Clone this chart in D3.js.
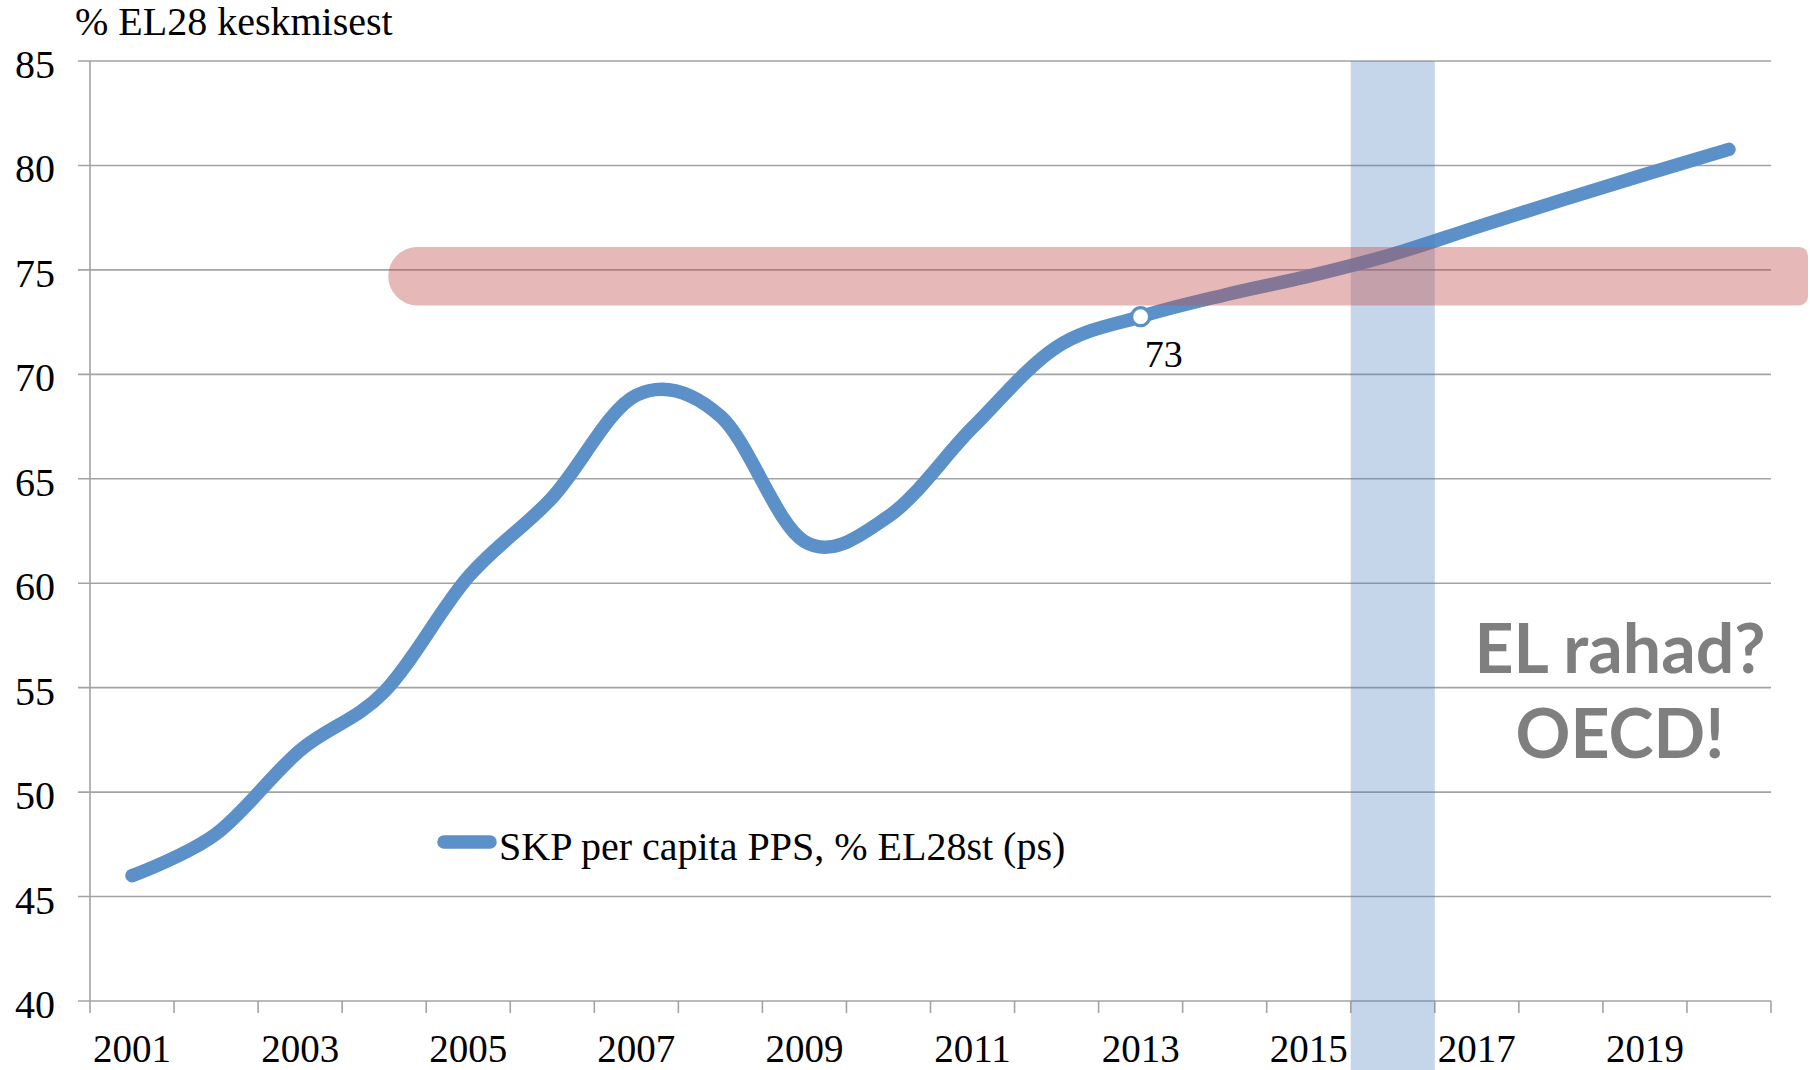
<!DOCTYPE html>
<html>
<head>
<meta charset="utf-8">
<script src="https://cdn.jsdelivr.net/npm/d3@7/dist/d3.min.js"></script>
<style>
  html, body { margin: 0; padding: 0; background: #fff; }
  svg { display: block; }
</style>
</head>
<body>
<svg id="chart" width="1810" height="1070"></svg>
<script>
// ---- data ----
const years = ["2001","2002","2003","2004","2005","2006","2007","2008","2009","2010",
               "2011","2012","2013","2014","2015","2016","2017","2018","2019","2020"];
const gdpValues = [46.0, 48.0, 52.0, 54.8, 60.3, 64.1, 69.0, 68.0, 62.0, 63.2,
                   67.45, 71.3, 72.76, 73.8, 74.7, 75.75, 77.05, 78.33, 79.57, 80.77];
const yTicks = [40, 45, 50, 55, 60, 65, 70, 75, 80, 85];
const xTickLabels = ["2001","2003","2005","2007","2009","2011","2013","2015","2017","2019"];
const seriesName = "SKP per capita PPS, % EL28st (ps)";
const yAxisTitle = "% EL28 keskmisest";
const highlightYear = "2013";
const highlightLabel = "73";
const shadedYears = ["2016"];
const targetBandStartYear = "2004";
const targetBand = [73.3, 76.1];
const annotationLines = ["EL rahad?", "OECD!"];

// ---- layout ----
const W = 1810, H = 1070;
const mLeft = 90, mRight = 1771, mTop = 61, mBottom = 1001;
const svg = d3.select("#chart");

const x = d3.scaleBand().domain(years).range([mLeft, mRight]).paddingInner(0).paddingOuter(0);
const y = d3.scaleLinear().domain([40, 85]).range([mBottom, mTop]);
const cx = d => x(d) + x.bandwidth() / 2;

const serif = "'Liberation Serif', 'Times New Roman', serif";
const gridColor = "#a3a3a3";
const lineColor = "#5b90c8";

// gridlines
svg.append("g").selectAll("line").data(yTicks).join("line")
  .attr("x1", mLeft - 12).attr("x2", mRight)
  .attr("y1", d => y(d)).attr("y2", d => y(d))
  .attr("stroke", gridColor).attr("stroke-width", 1.6);

// y axis line
svg.append("line").attr("x1", mLeft).attr("x2", mLeft).attr("y1", mTop).attr("y2", mBottom)
  .attr("stroke", gridColor).attr("stroke-width", 1.6);

// x axis ticks (category boundaries)
const boundaries = years.map(d => x(d)).concat([mRight]);
svg.append("g").selectAll("line").data(boundaries).join("line")
  .attr("x1", d => d).attr("x2", d => d)
  .attr("y1", mBottom).attr("y2", mBottom + 12)
  .attr("stroke", gridColor).attr("stroke-width", 1.6);

// y tick labels
svg.append("g").selectAll("text").data(yTicks).join("text")
  .attr("x", 55).attr("y", d => y(d) + 17)
  .attr("text-anchor", "end")
  .attr("font-family", serif).attr("font-size", 40).attr("fill", "#000")
  .text(d => d);

// x tick labels
svg.append("g").selectAll("text").data(xTickLabels).join("text")
  .attr("x", d => cx(d)).attr("y", 1062)
  .attr("text-anchor", "middle")
  .attr("font-family", serif).attr("font-size", 39).attr("fill", "#000")
  .text(d => d);

// axis title
svg.append("text").attr("x", 75).attr("y", 35)
  .attr("font-family", serif).attr("font-size", 40).attr("fill", "#000")
  .text(yAxisTitle);

// series line
const line = d3.line()
  .x((d, i) => cx(years[i]))
  .y(d => y(d))
  .curve(d3.curveCardinal.tension(0));
svg.append("path").datum(gdpValues)
  .attr("d", line)
  .attr("fill", "none").attr("stroke", lineColor).attr("stroke-width", 13.5)
  .attr("stroke-linecap", "round").attr("stroke-linejoin", "round");

// shaded year column
svg.append("g").selectAll("rect").data(shadedYears).join("rect")
  .attr("x", d => x(d)).attr("width", x.bandwidth())
  .attr("y", mTop).attr("height", H - mTop)
  .attr("fill", "#4f81bd").attr("opacity", 0.32);

// target band (rounded left end, cut at right)
{
  const y0 = y(targetBand[1]), y1 = y(targetBand[0]);
  const r = (y1 - y0) / 2;
  const xs = cx(targetBandStartYear) + 4;
  const xe = 1808, rc = 9;
  const p = d3.path();
  p.moveTo(xs + r, y0);
  p.lineTo(xe - rc, y0);
  p.arcTo(xe, y0, xe, y0 + rc, rc);
  p.lineTo(xe, y1 - rc);
  p.arcTo(xe, y1, xe - rc, y1, rc);
  p.lineTo(xs + r, y1);
  p.arc(xs + r, y0 + r, r, Math.PI / 2, 3 * Math.PI / 2);
  p.closePath();
  svg.append("path").attr("d", p.toString())
    .attr("fill", "#c0504d").attr("opacity", 0.4);
}

// highlighted point
const hi = years.indexOf(highlightYear);
svg.append("circle")
  .attr("cx", cx(highlightYear)).attr("cy", y(gdpValues[hi]))
  .attr("r", 9).attr("fill", "#fff").attr("stroke", lineColor).attr("stroke-width", 3.2);
svg.append("text")
  .attr("x", cx(highlightYear) + 23).attr("y", y(gdpValues[hi]) + 50)
  .attr("text-anchor", "middle")
  .attr("font-family", serif).attr("font-size", 38).attr("fill", "#000")
  .text(highlightLabel);

// legend
svg.append("line").attr("x1", 444).attr("x2", 490).attr("y1", 842).attr("y2", 842)
  .attr("stroke", lineColor).attr("stroke-width", 13.5).attr("stroke-linecap", "round");
svg.append("text").attr("x", 499).attr("y", 860)
  .attr("font-family", serif).attr("font-size", 40).attr("fill", "#000")
  .text(seriesName);

// annotation
const annoFont = "Lato, 'Open Sans', sans-serif";
svg.append("g").selectAll("text").data(annotationLines).join("text")
  .attr("x", 1620).attr("y", (d, i) => 673 + i * 85)
  .attr("text-anchor", "middle")
  .attr("font-family", annoFont).attr("font-weight", 700).attr("font-size", 68)
  .attr("fill", "#7f7f7f")
  .text(d => d);
</script>
</body>
</html>
